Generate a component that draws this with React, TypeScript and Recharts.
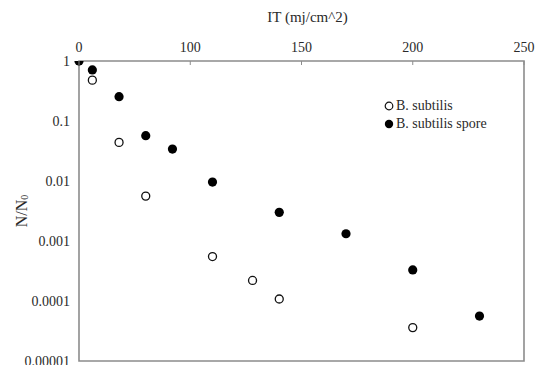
import React from "react";
import {
  ScatterChart,
  Scatter,
  XAxis,
  YAxis,
  ReferenceArea,
} from "recharts";

// x values in axis units (axis runs 0..200, tick labels as printed in the figure)
const subtilisX = [6, 18, 30, 60, 78, 90, 150];
const subtilisY = [0.48, 0.044, 0.0056, 0.00055, 0.00022, 0.000108, 0.000036];
const sporeX = [0, 6, 18, 30, 42, 60, 90, 120, 150, 180];
const sporeY = [1, 0.71, 0.254, 0.057, 0.034, 0.0096, 0.003, 0.00132, 0.00033, 0.000056];

const xTicks = [0, 50, 100, 150, 200];
const xTickLabels = ["0", "100", "150", "200", "250"];
const yTicks = [1, 0.1, 0.01, 0.001, 0.0001, 0.00001];
const yTickLabels = ["1", "0.1", "0.01", "0.001", "0.0001", "0.00001"];

const seriesNames = ["B. subtilis", "B. subtilis spore"];

const subtilisData = subtilisX.map((x, i) => ({ x, y: subtilisY[i] }));
const sporeData = sporeX.map((x, i) => ({ x, y: sporeY[i] }));

const FONT = "'Liberation Serif', 'DejaVu Serif', serif";
const TEXT = "#2a2a2a";
const FRAME = "#8c8c8c";

const OpenDot = (p: any) => (
  <circle cx={p.cx} cy={p.cy} r={4} fill="#fff" stroke="#111" strokeWidth={1.3} />
);
const FilledDot = (p: any) => (
  <circle cx={p.cx} cy={p.cy} r={4.6} fill="#000" stroke="none" />
);

const XTick = (p: any) => {
  const idx = xTicks.indexOf(p.payload.value);
  return (
    <g>
      <line x1={p.x} y1={p.y} x2={p.x} y2={p.y + 4} stroke={FRAME} strokeWidth={1} />
      <text x={p.x} y={p.y - 9} textAnchor="middle" fontFamily={FONT} fontSize={14} fill={TEXT}>
        {idx >= 0 ? xTickLabels[idx] : ""}
      </text>
    </g>
  );
};

const YTick = (p: any) => {
  const idx = yTicks.indexOf(p.payload.value);
  return (
    <text x={p.x} y={p.y + 4.5} textAnchor="end" fontFamily={FONT} fontSize={14} fill={TEXT}>
      {idx >= 0 ? yTickLabels[idx] : ""}
    </text>
  );
};

const LegendBox = () => (
  <div
    style={{
      position: "absolute",
      top: 89,
      left: 376,
      fontFamily: FONT,
      fontSize: 14,
      color: TEXT,
      lineHeight: "18px",
    }}
  >
    <div style={{ display: "flex", alignItems: "center" }}>
      <svg width={10} height={10} style={{ marginRight: 2 }}>
        <circle cx={5} cy={5} r={3.8} fill="#fff" stroke="#111" strokeWidth={1.2} />
      </svg>
      <span>{seriesNames[0]}</span>
    </div>
    <div style={{ display: "flex", alignItems: "center" }}>
      <svg width={10} height={10} style={{ marginRight: 2 }}>
        <circle cx={5} cy={5} r={4.2} fill="#000" />
      </svg>
      <span>{seriesNames[1]}</span>
    </div>
  </div>
);

export default function App() {
  return (
    <div style={{ width: 550, height: 380, position: "relative" }}>
      <ScatterChart
        width={550}
        height={380}
        margin={{ top: 0, right: 34, bottom: 27, left: 0 }}
      >
        <XAxis
          xAxisId={0}
          type="number"
          dataKey="x"
          orientation="top"
          domain={[0, 200]}
          ticks={xTicks}
          interval={0}
          height={53}
          tickSize={0}
          tickMargin={0}
          axisLine={false}
          tickLine={false}
          tick={<XTick />}
          label={{
            content: (lp: any) => {
              const vb = lp.viewBox;
              return (
                <text
                  x={vb.x + vb.width / 2 + 6}
                  y={vb.y + 14}
                  textAnchor="middle"
                  fontFamily={FONT}
                  fontSize={15}
                  fill={TEXT}
                >
                  IT (mj/cm^2)
                </text>
              );
            },
          }}
        />
        <YAxis
          yAxisId={0}
          type="number"
          dataKey="y"
          scale="log"
          domain={[0.00001, 1]}
          allowDataOverflow
          ticks={yTicks}
          interval={0}
          width={71}
          tickSize={0}
          tickMargin={9}
          axisLine={false}
          tickLine={false}
          tick={<YTick />}
          label={{
            content: (lp: any) => {
              const vb = lp.viewBox;
              const cx = 15;
              const cy = vb.y + vb.height / 2;
              return (
                <text
                  x={cx}
                  y={cy}
                  transform={`rotate(-90 ${cx} ${cy})`}
                  textAnchor="middle"
                  dominantBaseline="middle"
                  fontFamily={FONT}
                  fontSize={16}
                  fill={TEXT}
                >
                  N/N
                  <tspan fontSize={10} dy={3}>0</tspan>
                </text>
              );
            },
          }}
        />
        <ReferenceArea
          x1={0}
          x2={200}
          y1={0.00001}
          y2={1}
          fill="none"
          stroke={FRAME}
          strokeWidth={1.6}
          ifOverflow="visible"
        />
        <Scatter
          name={seriesNames[0]}
          data={subtilisData}
          shape={<OpenDot />}
          isAnimationActive={false}
        />
        <Scatter
          name={seriesNames[1]}
          data={sporeData}
          shape={<FilledDot />}
          isAnimationActive={false}
        />
      </ScatterChart>
      <LegendBox />
    </div>
  );
}
